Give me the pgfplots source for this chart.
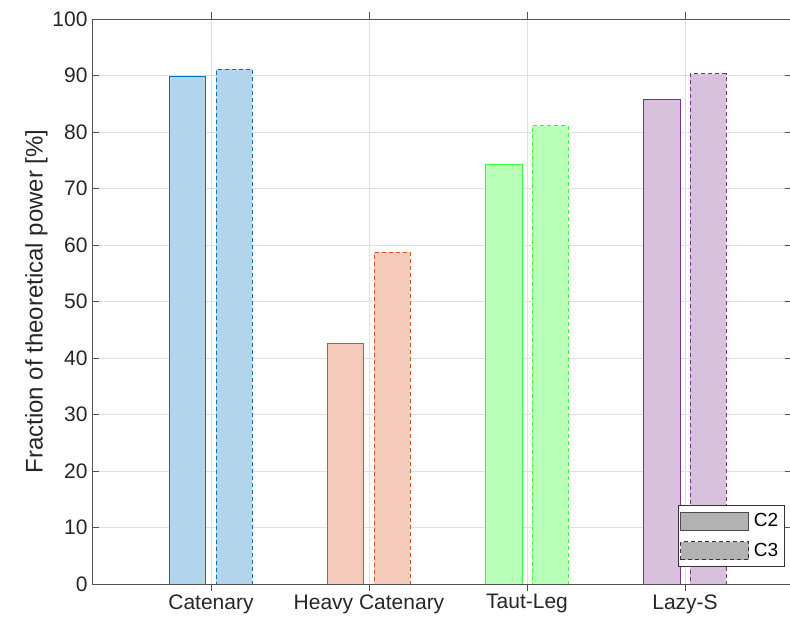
\documentclass[border=0pt]{standalone}
\usepackage{pgfplots}
\pgfplotsset{compat=1.18}
\usepackage{fontspec}
\setmainfont{Liberation Sans}
\definecolor{mblue}{rgb}{0,0.447,0.741}
\definecolor{morange}{rgb}{0.85,0.325,0.098}
\definecolor{mgreen}{rgb}{0.2,1,0.2}
\definecolor{mpurple}{rgb}{0.494,0.184,0.556}
\definecolor{axgray}{rgb}{0.15,0.15,0.15}
\begin{document}
\begin{tikzpicture}
\path[use as bounding box] (-92pt,-37pt) rectangle (698pt,584pt);
\begin{axis}[
  at={(0,0)}, anchor=south west,
  scale only axis, width=700pt, height=565pt,
  xmin=0.247, xmax=4.677, ymin=0, ymax=100,
  xtick={1,2,3,4},
  xticklabels={Catenary, Heavy Catenary, Taut-Leg, Lazy-S},
  ytick={0,10,...,100},
  grid=major,
  major grid style={draw=black!12, line width=0.6pt},
  axis line style={draw=axgray!80, line width=0.7pt},
  tick style={draw=axgray!80, line width=0.7pt},
  tick align=inside, major tick length=7pt,
  ticklabel style={font=\fontsize{21}{24}\selectfont, text=axgray},
  yticklabel style={xshift=-1pt},
  /pgf/number format/assume math mode=true,
  ylabel={Fraction of theoretical power [\%]},
  ylabel style={font=\fontsize{24}{28}\selectfont, text=axgray, yshift=-2pt},
  ybar, bar width=0.228,
  legend style={at={(0.99,0.030)}, anchor=south east, draw=black!80, line width=0.6pt,
    font=\fontsize{19}{22}\selectfont, row sep=11pt, inner xsep=1.5pt, inner ysep=6.5pt,
    nodes={inner xsep=5pt, inner ysep=0pt}},
  legend cell align=left,
  legend image code/.code={\draw[#1] (0pt,-9pt) rectangle (68pt,9pt);},
]
\addlegendimage{fill=black!30, draw=black!70, line width=0.8pt, solid}
\addlegendentry{C2}
\addlegendimage{fill=black!30, draw=black!80, line width=0.8pt, dash pattern=on 4pt off 3pt}
\addlegendentry{C3}
% C2 (solid)
\addplot[bar shift=-0.146, draw=mblue, fill=mblue!30!white, line width=0.9pt] coordinates {(1,89.9)};
\addplot[bar shift=-0.146, draw=morange, fill=morange!30!white, line width=0.9pt] coordinates {(2,42.6)};
\addplot[bar shift=-0.146, draw=mgreen, fill=mgreen!35!white, line width=0.9pt] coordinates {(3,74.3)};
\addplot[bar shift=-0.146, draw=mpurple, fill=mpurple!30!white, line width=0.9pt] coordinates {(4,85.7)};
% C3 (dashed)
\addplot[bar shift=0.146, draw=mblue, fill=mblue!30!white, line width=0.9pt, dash pattern=on 4pt off 3pt] coordinates {(1,91.1)};
\addplot[bar shift=0.146, draw=morange, fill=morange!30!white, line width=0.9pt, dash pattern=on 4pt off 3pt] coordinates {(2,58.7)};
\addplot[bar shift=0.146, draw=mgreen, fill=mgreen!35!white, line width=0.9pt, dash pattern=on 4pt off 3pt] coordinates {(3,81.1)};
\addplot[bar shift=0.146, draw=mpurple, fill=mpurple!30!white, line width=0.9pt, dash pattern=on 4pt off 3pt] coordinates {(4,90.3)};
\end{axis}
\end{tikzpicture}
\end{document}
